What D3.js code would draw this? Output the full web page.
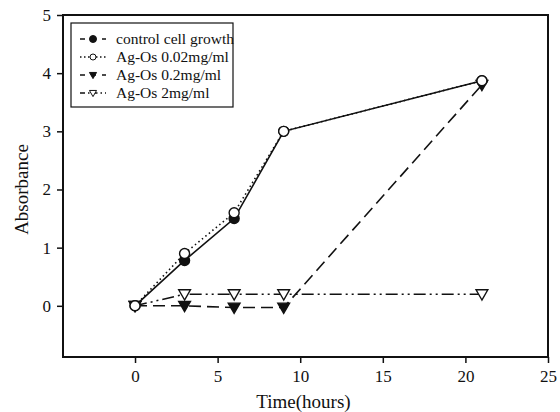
<!DOCTYPE html>
<html lang="en">
  <head>
    <meta charset="UTF-8" />
    <script src="https://d3js.org/d3.v7.min.js"></script>
    <title>Absorbance</title>
    <style>
      body { margin: 0; background: #fff; }
      text { font-family: "Liberation Serif", "DejaVu Serif", serif; fill: #111; }
    </style>
  </head>
  <body>
    <svg width="560" height="412"></svg>
    <script>
      // data
      var hours = [0, 3, 6, 9, 21];
      var control = [0, 0.78, 1.5, 3.0, 3.87];
      var agOs002 = [0, 0.9, 1.6, 3.0, 3.87];
      var agOs02 = [0, 0, -0.03, -0.03, 3.8];
      var agOs2 = [0, 0.2, 0.2, 0.2, 0.2];
      var seriesNames = [
        "control cell growth",
        "Ag-Os 0.02mg/ml",
        "Ag-Os 0.2mg/ml",
        "Ag-Os 2mg/ml",
      ];
      var xTicks = [0, 5, 10, 15, 20, 25];
      var yTicks = [0, 1, 2, 3, 4, 5];

      var svg = d3.select("svg"),
        margin = { top: 15, right: 12, bottom: 55, left: 63 },
        width = +svg.attr("width") - margin.left - margin.right,
        height = +svg.attr("height") - margin.top - margin.bottom,
        g = svg
          .append("g")
          .attr("transform", "translate(" + margin.left + "," + margin.top + ")");

      var x = d3.scaleLinear().domain([-4.36, 25]).range([0, width]);
      var y = d3.scaleLinear().domain([-0.88, 5]).range([height, 0]);

      var series = [
        { name: seriesNames[0], values: control, dash: null, legDash: "5,6", marker: "circle", fill: "#111" },
        { name: seriesNames[1], values: agOs002, dash: "1.5,3", legDash: "1.5,2.5", marker: "circle", fill: "#fff" },
        { name: seriesNames[2], values: agOs02, dash: "12,6", legDash: "5,6", marker: "tri", fill: "#111" },
        { name: seriesNames[3], values: agOs2, dash: "12,4,2,4,2,4", legDash: "5,3,1.5,3", marker: "tri", fill: "#fff" },
      ];

      // axes
      g.append("g")
        .attr("transform", "translate(0," + height + ")")
        .call(d3.axisBottom(x).tickValues(xTicks).tickFormat(d3.format("d")).tickSize(6).tickSizeOuter(0))
        .call(function (a) {
          a.select(".domain").remove();
          a.selectAll("line").attr("stroke", "#111").attr("stroke-width", 1.5);
          a.selectAll("text").attr("font-size", 17).attr("dy", "0.95em");
        });

      g.append("g")
        .call(d3.axisLeft(y).tickValues(yTicks).tickFormat(d3.format("d")).tickSize(6).tickSizeOuter(0))
        .call(function (a) {
          a.select(".domain").remove();
          a.selectAll("line").attr("stroke", "#111").attr("stroke-width", 1.5);
          a.selectAll("text").attr("font-size", 17).attr("x", -12);
        });

      g.append("rect")
        .attr("width", width)
        .attr("height", height)
        .attr("fill", "none")
        .attr("stroke", "#111")
        .attr("stroke-width", 2);

      var line = d3
        .line()
        .x(function (d) { return x(d[0]); })
        .y(function (d) { return y(d[1]); });

      var tri = d3.symbol().type(d3.symbolTriangle).size(60);

      function drawMarker(sel, s, px, py) {
        if (s.marker === "circle") {
          sel.append("circle")
            .attr("cx", px).attr("cy", py).attr("r", 5)
            .attr("fill", s.fill).attr("stroke", "#111").attr("stroke-width", 1.4);
        } else {
          sel.append("path")
            .attr("d", tri)
            .attr("transform", "translate(" + px + "," + (py - 1) + ") rotate(180)")
            .attr("fill", s.fill).attr("stroke", "#111").attr("stroke-width", 1.4);
        }
      }

      // draw back to front so the top series match
      [3, 2, 0, 1].forEach(function (i) {
        var s = series[i];
        var pts = hours.map(function (h, k) { return [h, s.values[k]]; });
        g.append("path")
          .datum(pts)
          .attr("d", line)
          .attr("fill", "none")
          .attr("stroke", "#111")
          .attr("stroke-width", 1.6)
          .attr("stroke-dasharray", s.dash);
        var mg = g.append("g");
        pts.forEach(function (p) {
          drawMarker(mg, s, x(p[0]), y(p[1]));
        });
      });

      // legend
      var legend = g.append("g").attr("transform", "translate(8,8)");
      legend.append("rect")
        .attr("width", 162)
        .attr("height", 84)
        .attr("fill", "#fff")
        .attr("stroke", "#111")
        .attr("stroke-width", 1.2);

      var rows = legend
        .selectAll("g")
        .data(series)
        .enter()
        .append("g")
        .attr("transform", function (d, i) { return "translate(0," + (16 + i * 18) + ")"; });

      rows.append("line")
        .attr("x1", 9).attr("x2", 35)
        .attr("stroke", "#111").attr("stroke-width", 1.4)
        .attr("stroke-dasharray", function (d) { return d.legDash; });
      rows.each(function (d) {
        var r = d3.select(this);
        if (d.marker === "circle") {
          r.append("circle").attr("cx", 22).attr("cy", 0).attr("r", d.fill === "#fff" ? 3 : 3.5)
            .attr("fill", d.fill).attr("stroke", "#111").attr("stroke-width", 1);
        } else {
          r.append("path").attr("d", d3.symbol().type(d3.symbolTriangle).size(22))
            .attr("transform", "translate(22,-0.5) rotate(180)")
            .attr("fill", d.fill).attr("stroke", "#111").attr("stroke-width", 1);
        }
      });
      rows.append("text")
        .attr("x", 45)
        .attr("dy", "0.35em")
        .attr("font-size", 15.5)
        .text(function (d) { return d.name; });

      // axis titles
      svg.append("text")
        .attr("x", margin.left + x(10.2))
        .attr("y", 408)
        .attr("text-anchor", "middle")
        .attr("font-size", 19)
        .text("Time(hours)");

      svg.append("text")
        .attr("transform", "translate(28," + (margin.top + y(2)) + ") rotate(-90)")
        .attr("text-anchor", "middle")
        .attr("font-size", 19)
        .text("Absorbance");
    </script>
  </body>
</html>
